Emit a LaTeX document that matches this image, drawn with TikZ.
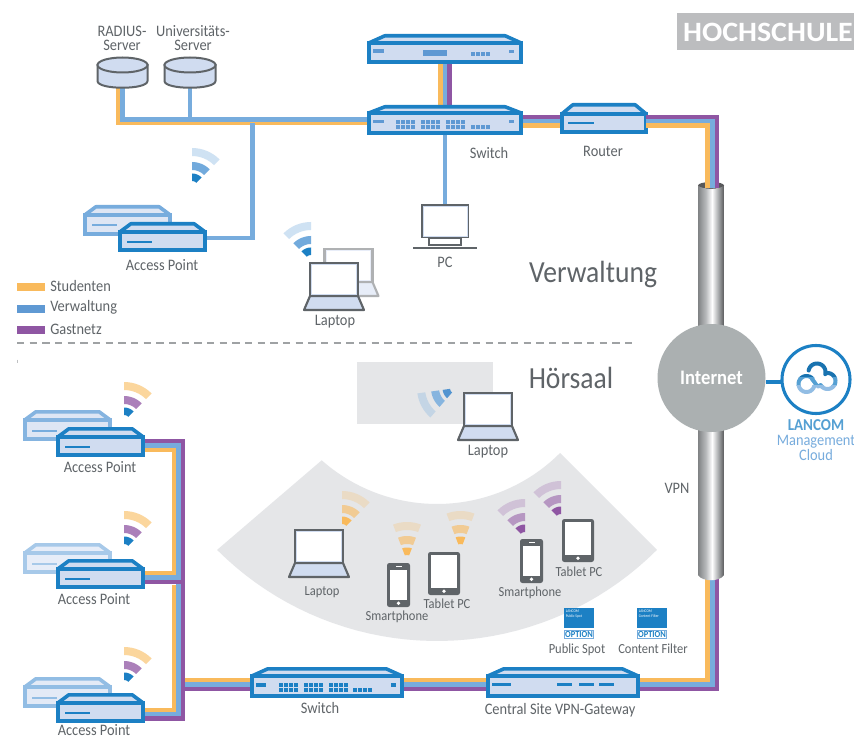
\documentclass[tikz,border=0pt]{standalone}
\usepackage{fontspec}
\setmainfont{Carlito}[FakeStretch=0.9]
\newfontfamily\titlefont{Carlito}[FakeStretch=1.07]
\definecolor{cStu}{HTML}{F9BA5C}
\definecolor{cVer}{HTML}{77ACDD}
\definecolor{cGas}{HTML}{8F56A3}
\definecolor{cLegV}{HTML}{5F99D3}
\definecolor{cBlue}{HTML}{1C80C4}
\definecolor{cBody}{HTML}{D0DCF0}
\definecolor{cGrey}{HTML}{5F6468}
\definecolor{cFan}{HTML}{E5E6E8}
\definecolor{cNet}{HTML}{ABB0B1}
\definecolor{cTitle}{HTML}{BCBDBF}
\definecolor{cP1}{HTML}{808284}
\definecolor{cP2}{HTML}{B8BABC}
\definecolor{cP3}{HTML}{FFFFFF}
\definecolor{cP4}{HTML}{A8AAAC}
\definecolor{cP5}{HTML}{58595B}
\pgfdeclarehorizontalshading{pipegrad}{100bp}{color(0bp)=(cP1); color(25bp)=(cP1); color(40bp)=(cP2); color(52bp)=(cP3); color(64bp)=(cP4); color(75bp)=(cP5); color(100bp)=(cP5)}
\pgfdeclarelayer{bg}
\pgfsetlayers{bg,main}
\tikzset{
  lab/.style={font=\fontsize{12pt}{10.5pt}\selectfont, text=cGrey, inner sep=0pt, align=center},
  halllab/.style={font=\fontsize{10.4pt}{12pt}\selectfont, text=cGrey, inner sep=0pt, align=center},
  biglab/.style={font=\fontsize{23pt}{26pt}\selectfont, text=cGrey, inner sep=0pt},
  stu/.style={draw=cStu, line width=3.6pt},
  ver/.style={draw=cVer, line width=3.4pt},
  gas/.style={draw=cGas, line width=3.4pt},
  devbody/.style={draw=devS, fill=devF, line width=2.7pt, inner sep=0pt, outer sep=0pt, rectangle},
  devroof/.style={draw=devS, fill=devF, line width=2.7pt, line join=round},
  devmark/.style={fill=devM},
  lapline/.style={draw=lapS, line width=1.6pt, line join=round},
  devicon/.style={fill=cGrey, rounded corners=1.8pt, inner sep=0pt, outer sep=0pt, rectangle},
}
\colorlet{devS}{cBlue}\colorlet{devF}{cBody}\colorlet{devM}{cBlue}
\colorlet{lapS}{cGrey}\colorlet{lapF}{cBody}
% name x0 x1 ytop ybody ybot inset
\newcommand{\netdev}[7]{%
  \draw[devroof] ({#2+1.8+#7},{#4+1.8}) -- ({#3-1.8-#7},{#4+1.8}) -- ({#3-1.8},#5) -- ({#2+1.8},#5) -- cycle;
  \node[devbody, minimum width={(#3-#2-3.6)*0.75pt}, minimum height={(#6-#5-1.8)*0.75pt}] (#1) at ({(#2+#3)/2},{(#5+#6-1.8)/2}) {};
}
\newcommand{\setdev}[3]{\colorlet{devS}{#1}\colorlet{devF}{#2}\colorlet{devM}{#3}}
\newcommand{\portrow}[4]{\foreach \i in {1,...,#3}{\fill[devmark] ({#1+(\i-1)*5},#2) rectangle +(3.9,#4);}}
\newcommand{\portgroups}[3]{% x of first group, y of first row, last-row x
  \foreach \g in {0,25,50}{\portrow{#1+\g}{#2}{4}{4}\portrow{#1+\g}{#2+5}{4}{4}}
  \portrow{#3}{#2+5}{4}{4}}
% cx cy a1 a2 r1 r2 colour
\newcommand{\wband}[7]{\fill[#7] plot[domain=#3:#4,samples=9] ({#1+#6*cos(\x)},{#2-#6*sin(\x)}) -- plot[domain=#4:#3,samples=9] ({#1+#5*cos(\x)},{#2-#5*sin(\x)}) -- cycle;}
\newcommand{\wifi}[7]{\wband{#1}{#2}{#3}{#4}{6}{13.5}{#5}\wband{#1}{#2}{#3}{#4}{17}{25}{#6}\wband{#1}{#2}{#3}{#4}{31}{39}{#7}}
% name x y (screen top-left)
\newcommand{\laptopicon}[3]{%
  \draw[lapline, fill=lapF] ({#2},{#3+33}) -- ({#2-6},{#3+47}) -- ({#2+54},{#3+47}) -- ({#2+48},{#3+33}) -- cycle;
  \node[draw=lapS, line width=1.6pt, fill=white, inner sep=0pt, outer sep=0pt, minimum width=36pt, minimum height=24.75pt] (#1) at ({#2+24},{#3+16.5}) {};
  \draw[lapF, line width=.5pt] ({#2+1.8},{#3+1.8}) rectangle ({#2+46.2},{#3+31.2});
}
\newcommand{\phoneicon}[3]{%
  \node[devicon, minimum width=17.25pt, minimum height=33pt] (#1) at ({#2+11.5},{#3+22}) {};
  \fill[white] ({#2+2.7},{#3+7}) rectangle ({#2+20.3},{#3+37});
  \fill[white] ({#2+8.5},{#3+3}) rectangle ({#2+14.5},{#3+4.4});
  \fill[white] ({#2+11.5},{#3+40.3}) circle (1.9);
}
\newcommand{\tableticon}[3]{%
  \node[devicon, minimum width=24pt, minimum height=32.25pt] (#1) at ({#2+16},{#3+21.5}) {};
  \fill[white] ({#2+2.8},{#3+3}) rectangle ({#2+29.2},{#3+35.5});
  \fill[white] ({#2+16},{#3+39.3}) circle (1.9);
}
\newcommand{\dbicon}[3]{%
  \draw[draw=cGrey, fill=cBody, line width=1.5pt] (#2,65) -- (#2,81) .. controls (#2,90) and (#3,90) .. (#3,81) -- (#3,65) -- cycle;
  \draw[draw=cGrey, fill=cBody, line width=1.5pt] ({(#2+#3)/2},65) ellipse ({(#3-#2)/2} and 7.5);
  \node[inner sep=0pt, outer sep=0pt, minimum width={(#3-#2)*0.75pt}, minimum height=23.5pt] (#1) at ({(#2+#3)/2},72.5) {};
}
\newcommand{\optionbox}[4]{%
  \node[fill=cBlue, inner sep=0pt, outer sep=0pt, minimum width=22.5pt, minimum height=15pt] (#1) at ({#2+15},618) {};
  \node[anchor=north west, inner sep=0pt, text=white, align=left, font=\fontsize{3pt}{3.6pt}\selectfont] at ({#2+1.5},610) {LANCOM\\#3};
  \node[draw=cVer, line width=.8pt, fill=white, inner sep=0pt, outer sep=0pt, minimum width=21.6pt, minimum height=6.6pt, text=cBlue, font=\bfseries\fontsize{7pt}{7pt}\selectfont] (#4) at ({#2+15},634.5) {OPTION};
}
\newcommand{\arcpx}[5]{plot[domain=#4:#5,samples=24] ({#1+#3*cos(\x)},{#2-#3*sin(\x)})}
\newcommand{\cloudpaths}{%
  \draw[line width=3pt, line cap=round] \arcpx{806.5}{384}{8}{40}{340};
  \draw[line width=3pt, line cap=round] \arcpx{817}{372}{8.5}{170}{-15};
  \draw[line width=3pt, line cap=round] \arcpx{827.5}{381}{8}{100}{-150};
  \draw[line width=3pt, line cap=round] (812,379) .. controls (816,383) and (816,388) .. (821,386);
}
\begin{document}
\begin{tikzpicture}[x=0.75pt,y=-0.75pt]
\useasboundingbox (0,0) rectangle (854,738);
\begin{pgfonlayer}{bg}
\fill[white] (0,0) rectangle (854,738);
\end{pgfonlayer}

% title, separator
\node[fill=cTitle, minimum width=133pt, minimum height=27.75pt, inner sep=0pt, outer sep=0pt] (titlebox) at (765.5,31.5) {};
\node[text=white, font=\titlefont\bfseries\fontsize{21pt}{24pt}\selectfont, inner sep=0pt] (title) at (768,32) {HOCHSCHULE};
\draw[draw=cGrey!60!white, line width=1.5pt, dash pattern=on 5.5pt off 4pt] (17,343) -- (633,343);
\draw[draw=cGrey!40!white, line width=.7pt] (17,359.5) -- (17,362.5);

% legend
\fill[cStu] (17,283) rectangle (45,291);
\fill[cLegV] (17,305) rectangle (45,313);
\fill[cGas] (17,326) rectangle (45,334);
\node[lab, anchor=west] (lS) at (50,286) {Studenten};
\node[lab, anchor=west] (lV) at (50,307) {Verwaltung};
\node[lab, anchor=west] (lG) at (50,329) {Gastnetz};

\node[biglab] (verw) at (593,274) {Verwaltung};
\node[biglab] (hoer) at (571,378) {Hörsaal};

% lecture hall background
\fill[cFan] plot[domain=225:315,samples=40] ({437+311*cos(\x)},{330-311*sin(\x)}) -- plot[domain=315:228.5,samples=40] ({437+174*cos(\x)},{330-174*sin(\x)}) -- cycle;
\fill[cFan] (357,362) rectangle (493,424);

% pipe
\coordinate (pipeTO) at (707.5,188);
\coordinate (pipeTB) at (712.5,188);
\coordinate (pipeTP) at (717,188);
\coordinate (pipeBO) at (707.5,575);
\coordinate (pipeBB) at (712.5,575);
\coordinate (pipeBP) at (717,575);
\fill[cP5] (711,185.5) ellipse (13 and 3.5);
\shade[shading=pipegrad] (698,185.5) .. controls (702,190) and (720,190) .. (724,185.5) -- (724,575) .. controls (720,582) and (702,582) .. (698,575) -- cycle;

% devices
\setdev{cBlue}{cBody}{cLegV}
\netdev{gwT}{367}{523}{34}{43}{64}{16}
\fill[devmark] (373,49.5) rectangle (384,53);
\fill[devmark] (423,50) rectangle (447,56);
\portrow{471}{52}{4}{4}
\fill[devmark] (509,50) rectangle (514,53);

\netdev{swT}{367}{523}{105}{113}{135}{16}
\fill[devmark] (373,120) rectangle (384,123.5);
\portgroups{396}{120}{471}
\fill[devmark] (509,120) rectangle (514,123.5);

\setdev{cBlue}{cBody}{cBlue}
\netdev{rtr}{560}{648}{103}{114}{134}{11}
\fill[devmark] (568,122) rectangle (594,124);

\netdev{swB}{250}{404}{667}{676}{698}{16}
\fill[devmark] (256,683) rectangle (266,686.5);
\portgroups{279}{683}{353}
\fill[devmark] (391,683) rectangle (396,686.5);

\netdev{gwB}{486}{640}{667}{676}{698}{16}
\fill[devmark] (492,683) rectangle (511,686);
\fill[devmark] (557,683) rectangle (572,686);
\fill[devmark] (579,683) rectangle (594,686);
\fill[devmark] (599,683) rectangle (614,686);

% access points: rear (faint) and front
\setdev{cVer}{cBody!70!white}{cVer}
\netdev{apA0}{83}{172}{205}{215}{236}{11}
\fill[devmark] (92,224.5) rectangle (117,226.5);
\setdev{cBlue}{cBody}{cBlue}
\netdev{apA}{118}{207}{222}{232}{252}{11}
\fill[devmark] (127,241) rectangle (152,243);

\setdev{cVer!90!white}{cBody!70!white}{cVer}
\netdev{apB0}{23}{112}{410}{420}{441}{11}
\fill[devmark] (32,429.5) rectangle (57,431.5);
\setdev{cBlue}{cBody}{cBlue}
\netdev{apB}{56}{145}{427}{437}{457}{11}
\fill[devmark] (65,446) rectangle (90,448);

\setdev{cVer!65!white}{cBody!50!white}{cVer!65!white}
\netdev{apC0}{23}{112}{543}{553}{574}{11}
\fill[devmark] (32,562.5) rectangle (57,564.5);
\setdev{cBlue}{cBody}{cBlue}
\netdev{apC}{56}{145}{559}{569}{589}{11}
\fill[devmark] (65,578) rectangle (90,580);

\setdev{cVer!80!white}{cBody!60!white}{cVer!80!white}
\netdev{apD0}{23}{112}{677}{687}{708}{11}
\fill[devmark] (32,696.5) rectangle (57,698.5);
\setdev{cBlue}{cBody}{cBlue}
\netdev{apD}{56}{145}{693}{703}{723}{11}
\fill[devmark] (65,712) rectangle (90,714);

% servers
\dbicon{srvR}{97.5}{147.5}
\dbicon{srvU}{164.5}{215.5}

% PC
\node[draw=cGrey, line width=1.5pt, fill=white, inner sep=0pt, outer sep=0pt, minimum width=35pt, minimum height=24.5pt] (pc) at (445,221) {};
\draw[draw=cBody, line width=.5pt] (423,206) rectangle (467,236);
\draw[draw=cGrey, line width=1.5pt] (429,238) rectangle (461,245);
\draw[draw=cGrey, line width=1.5pt] (413,248) -- (477,248);

% laptops
\colorlet{lapS}{cGrey!50!white}\colorlet{lapF}{cBody!50!white}
\laptopicon{lapA0}{324.5}{249}
\colorlet{lapS}{cGrey}\colorlet{lapF}{cBody}
\laptopicon{lapA}{310}{263}
\laptopicon{lapR}{464}{393}
\laptopicon{lapH}{295}{530}

% phones and tablets
\phoneicon{phA}{387}{563}
\phoneicon{phB}{520}{539}
\tableticon{tbA}{428}{552}
\tableticon{tbB}{562}{519}

% wifi fans
\wifi{192}{187}{45}{90}{cBlue}{cVer!95!cBlue}{cVer!35!white}
\wifi{311}{261}{90}{135}{cBlue}{cVer!95!cBlue}{cVer!35!white}
\wifi{456}{388}{188}{229}{cLegV!80!cBlue}{cVer!85!cFan}{cVer!30!cFan}
\wifi{124}{421}{45}{90}{cBlue}{cGas!75!white}{cStu!60!white}
\wifi{124}{550}{45}{90}{cBlue}{cGas!75!white}{cStu!60!white}
\wifi{124}{686}{45}{90}{cBlue}{cGas!75!white}{cStu!60!white}
\wifi{342}{530}{45}{90}{cStu}{cStu!60!cFan}{cStu!25!cFan}
\wifi{407}{561}{69}{111}{cStu}{cStu!60!cFan}{cStu!25!cFan}
\wifi{460.5}{550}{69}{111}{cStu}{cStu!60!cFan}{cStu!25!cFan}
\wifi{525}{538}{90}{135}{cGas}{cGas!55!cFan}{cGas!25!cFan}
\wifi{561}{520}{90}{135}{cGas}{cGas!55!cFan}{cGas!25!cFan}

% option boxes
\optionbox{optA}{564}{Public Spot}{optAb}
\optionbox{optB}{637}{Content Filter}{optBb}

% internet + cloud
\node[circle, fill=cNet, minimum size=81pt, inner sep=0pt, outer sep=0pt, text=white, font=\bfseries\fontsize{15.5pt}{16pt}\selectfont] (net) at (711.5,378) {Internet};
\node[circle, draw=cBlue, line width=2.3pt, fill=white, minimum size=51pt, inner sep=0pt, outer sep=0pt] (lmc) at (816,379.5) {};
\begin{scope}
  \clip (790,350) rectangle (840,377);
  \begin{scope}[cBlue!90!black]\cloudpaths\end{scope}
\end{scope}
\begin{scope}
  \clip (790,377) rectangle (840,385);
  \begin{scope}[cBlue!75!white]\cloudpaths\end{scope}
\end{scope}
\begin{scope}
  \clip (790,385) rectangle (840,400);
  \begin{scope}[cVer!80!white]\cloudpaths\end{scope}
\end{scope}

% connectors
\coordinate (jR) at (252.7,123);
\coordinate (jU) at (190,119.3);
\begin{pgfonlayer}{bg}
  % server side
  \draw[stu] (srvR.south -| 118.5,0) |- (swT.west |- 0,123);
  \draw[ver] (srvR.south -| 122.7,0) |- (swT.west |- 0,119.3);
  \draw[ver] (srvU.south -| 190,0) -- (jU);
  \draw[ver] (apA.east |- 0,238) -| (jR);
  % gateway to switch
  \draw[stu] (gwT.south -| 440.7,0) -- (swT.north -| 440.7,0);
  \draw[ver] (gwT.south -| 445,0) -- (swT.north -| 445,0);
  \draw[gas] (gwT.south -| 449.5,0) -- (swT.north -| 449.5,0);
  % switch to PC
  \draw[ver] (swT.south -| 445,0) -- (pc.north);
  % switch to router
  \draw[stu] (swT.east |- 0,125.2) -- (rtr.west |- 0,125.2);
  \draw[ver] (swT.east |- 0,121) -- (rtr.west |- 0,121);
  \draw[gas] (swT.east |- 0,116.8) -- (rtr.west |- 0,116.8);
  % trunk of the lecture hall
  \coordinate (tP) at (183,441);
  \draw[stu] (apB.east |- 0,450) -| (174,573) -- (apC.east |- 0,573);
  \draw[stu] (apD.east |- 0,710) -| (174,585);
  \draw[stu] (tP |- 0,680) -- (swB.west |- 0,680);
  \draw[ver] (apB.east |- 0,445.5) -| (178.5,714) -- (apD.east |- 0,714);
  \draw[ver] (apC.east |- 0,577.5) -- (178.5,577.5);
  \draw[ver] (tP |- 0,684.5) -- (swB.west |- 0,684.5);
  \draw[gas] (apB.east |- 0,441) -| (183,718.5) -- (apD.east |- 0,718.5);
  \draw[gas] (apC.east |- 0,582) -- (183,582);
  \draw[gas] (tP |- 0,689) -- (swB.west |- 0,689);
  % switch to gateway
  \draw[stu] (swB.east |- 0,680) -- (gwB.west |- 0,680);
  \draw[ver] (swB.east |- 0,684.5) -- (gwB.west |- 0,684.5);
  \draw[gas] (swB.east |- 0,689) -- (gwB.west |- 0,689);
  % gateway to pipe
  \draw[stu] (gwB.east |- 0,680) -| (pipeBO);
  \draw[ver] (gwB.east |- 0,684.5) -| (pipeBB);
  \draw[gas] (gwB.east |- 0,689) -| (pipeBP);
  % internet to cloud
  \draw[draw=cBlue, line width=3pt] (net.east |- 0,382) -- (lmc.west |- 0,382);
\end{pgfonlayer}
% router into the pipe
\draw[stu] (rtr.east |- 0,125.2) -| (pipeTO);
\draw[ver] (rtr.east |- 0,121) -| (pipeTB);
\draw[gas] (rtr.east |- 0,116.8) -| (pipeTP);

% labels
\node[lab] (tR) at (122,38) {RADIUS-\\Server};
\node[lab] (tU) at (193,38) {Universitäts-\\Server};
\node[lab] (tAP0) at (162,265) {Access Point};
\node[lab] (tL0) at (335,322) {Laptop};
\node[lab] (tPC) at (445,262) {PC};
\node[lab] (tSW) at (489,153) {Switch};
\node[lab] (tRT) at (603,151) {Router};
\node[lab] (tAP1) at (100,467) {Access Point};
\node[lab] (tAP2) at (94,599) {Access Point};
\node[lab] (tAP3) at (94,730.5) {Access Point};
\node[lab] (tL1) at (488,452) {Laptop};
\node[halllab] (tL2) at (322,592) {Laptop};
\node[halllab] (tS1) at (397,616.5) {Smartphone};
\node[halllab] (tT1) at (447,604) {Tablet PC};
\node[halllab] (tS2) at (530,592.5) {Smartphone};
\node[halllab] (tT2) at (579,572) {Tablet PC};
\node[halllab] (tPS) at (577,649.5) {Public Spot};
\node[halllab] (tCF) at (653,649) {Content Filter};
\node[lab] (tSB) at (320,708) {Switch};
\node[lab] (tGW) at (560,710.5) {Central Site VPN-Gateway};
\node[lab] (tVPN) at (677,488) {VPN};
\node[inner sep=0pt, text=cBlue!75!white, font=\bfseries\fontsize{12.5pt}{13pt}\selectfont] (tLC) at (816,425) {LANCOM};
\node[inner sep=0pt, text=cVer, font=\fontsize{12pt}{11.3pt}\selectfont, align=center] (tMC) at (816,447.5) {Management\\Cloud};
\end{tikzpicture}
\end{document}
